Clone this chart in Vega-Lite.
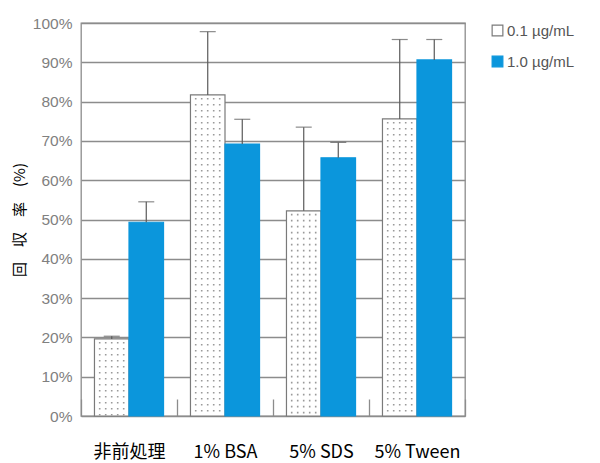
{
  "$schema": "https://vega.github.io/schema/vega-lite/v6.json",
  "width": 384,
  "height": 393,
  "autosize": {"type": "none"},
  "padding": {"left": 81, "top": 23, "right": 135, "bottom": 47},
  "background": "white",
  "config": {
    "view": {"stroke": "#8c8c8c", "strokeWidth": 1.3},
    "font": "Liberation Sans",
    "axisY": {
      "tickCount": 11,
      "titleFont": "Noto Sans CJK JP",
      "titleFontSize": 15,
      "titleFontWeight": "normal",
      "titleColor": "#000000",
      "titlePadding": 5,
      "labelFont": "Liberation Sans",
      "labelFontSize": 15.5,
      "labelColor": "#808080",
      "labelPadding": 9,
      "ticks": false,
      "tickSize": 0,
      "domain": false,
      "grid": true,
      "gridColor": "#8c8c8c",
      "gridWidth": 1.3
    }
  },
  "data": {
    "values": [
      {"group": "非前処理", "conc": "0.1 µg/mL", "rate": 19.6, "upper": 20.3},
      {"group": "非前処理", "conc": "1.0 µg/mL", "rate": 49.3, "upper": 54.5},
      {"group": "1% BSA", "conc": "0.1 µg/mL", "rate": 81.7, "upper": 97.8},
      {"group": "1% BSA", "conc": "1.0 µg/mL", "rate": 69.2, "upper": 75.5},
      {"group": "5% SDS", "conc": "0.1 µg/mL", "rate": 52.2, "upper": 73.5},
      {"group": "5% SDS", "conc": "1.0 µg/mL", "rate": 65.7, "upper": 69.6},
      {"group": "5% Tween", "conc": "0.1 µg/mL", "rate": 75.6, "upper": 95.8},
      {"group": "5% Tween", "conc": "1.0 µg/mL", "rate": 90.6, "upper": 95.8}
    ]
  },
  "encoding": {
    "x": {
      "field": "group",
      "type": "nominal",
      "sort": ["非前処理", "1% BSA", "5% SDS", "5% Tween"],
      "scale": {"paddingInner": 0, "paddingOuter": 0},
      "axis": {
        "title": null,
        "labelAngle": 0,
        "labelFont": "Noto Sans CJK JP",
        "labelFontSize": 18,
        "labelFontWeight": "normal",
        "labelColor": "#000000",
        "labelBaseline": "top",
        "labelPadding": 44,
        "tickBand": "extent",
        "tickSize": -17,
        "tickColor": "#8c8c8c",
        "tickWidth": 1.3,
        "domain": false,
        "grid": false
      }
    }
  },
  "layer": [
    {
      "mark": {"type": "bar", "strokeWidth": 1.2},
      "encoding": {
        "xOffset": {"field": "conc", "type": "nominal", "sort": ["0.1 µg/mL", "1.0 µg/mL"], "scale": {"paddingInner": 0, "paddingOuter": 0.39}},
        "y": {
          "field": "rate",
          "type": "quantitative",
          "scale": {"domain": [0, 100], "nice": false},
          "axis": {"title": "回\u2003収\u2003率\u2003(%)", "labelExpr": "datum.value + '%'"}
        },
        "fill": {
          "field": "conc",
          "type": "nominal",
          "sort": ["0.1 µg/mL", "1.0 µg/mL"],
          "scale": {"range": ["#ffffff", "#0b96dc"]},
          "legend": {
            "title": null,
            "orient": "right",
            "offset": 25,
            "padding": 0,
            "symbolType": "square",
            "symbolSize": 115,
            "symbolStrokeWidth": 1.2,
            "symbolOpacity": 1,
            "labelFont": "Liberation Sans",
            "labelFontSize": 15,
            "labelColor": "#555555",
            "labelOffset": 2,
            "rowPadding": 14,
            "encode": {
              "symbols": {
                "update": {
                  "stroke": {"signal": "datum.value === '0.1 µg/mL' ? '#7a7a7a' : '#0b96dc'"}
                }
              }
            }
          }
        },
        "stroke": {
          "field": "conc",
          "type": "nominal",
          "sort": ["0.1 µg/mL", "1.0 µg/mL"],
          "scale": {"range": ["#7a7a7a", "#0b96dc"]},
          "legend": null
        }
      }
    },
    {
      "transform": [{"filter": "datum.conc === '0.1 µg/mL'"}],
      "mark": {"type": "rule", "xOffset": -29.3, "strokeDash": [1.6, 4.4], "strokeDashOffset": 3, "color": "#9a9a9a", "strokeWidth": 1.6},
      "encoding": {"y": {"field": "rate", "type": "quantitative"}, "y2": {"datum": 0}}
    },
    {
      "transform": [{"filter": "datum.conc === '0.1 µg/mL'"}],
      "mark": {"type": "rule", "xOffset": -23.3, "strokeDash": [1.6, 4.4], "strokeDashOffset": 3, "color": "#9a9a9a", "strokeWidth": 1.6},
      "encoding": {"y": {"field": "rate", "type": "quantitative"}, "y2": {"datum": 0}}
    },
    {
      "transform": [{"filter": "datum.conc === '0.1 µg/mL'"}],
      "mark": {"type": "rule", "xOffset": -17.3, "strokeDash": [1.6, 4.4], "strokeDashOffset": 3, "color": "#9a9a9a", "strokeWidth": 1.6},
      "encoding": {"y": {"field": "rate", "type": "quantitative"}, "y2": {"datum": 0}}
    },
    {
      "transform": [{"filter": "datum.conc === '0.1 µg/mL'"}],
      "mark": {"type": "rule", "xOffset": -11.3, "strokeDash": [1.6, 4.4], "strokeDashOffset": 3, "color": "#9a9a9a", "strokeWidth": 1.6},
      "encoding": {"y": {"field": "rate", "type": "quantitative"}, "y2": {"datum": 0}}
    },
    {
      "transform": [{"filter": "datum.conc === '0.1 µg/mL'"}],
      "mark": {"type": "rule", "xOffset": -5.3, "strokeDash": [1.6, 4.4], "strokeDashOffset": 3, "color": "#9a9a9a", "strokeWidth": 1.6},
      "encoding": {"y": {"field": "rate", "type": "quantitative"}, "y2": {"datum": 0}}
    },
    {
      "mark": {"type": "rule", "color": "#5a5a5a", "strokeWidth": 1.2},
      "encoding": {
        "xOffset": {"field": "conc", "type": "nominal", "sort": ["0.1 µg/mL", "1.0 µg/mL"]},
        "y": {"field": "rate", "type": "quantitative"},
        "y2": {"field": "upper"}
      }
    },
    {
      "mark": {"type": "tick", "color": "#5a5a5a", "thickness": 1.2, "size": 16, "orient": "horizontal"},
      "encoding": {
        "xOffset": {"field": "conc", "type": "nominal", "sort": ["0.1 µg/mL", "1.0 µg/mL"]},
        "y": {"field": "upper", "type": "quantitative"}
      }
    }
  ]
}
